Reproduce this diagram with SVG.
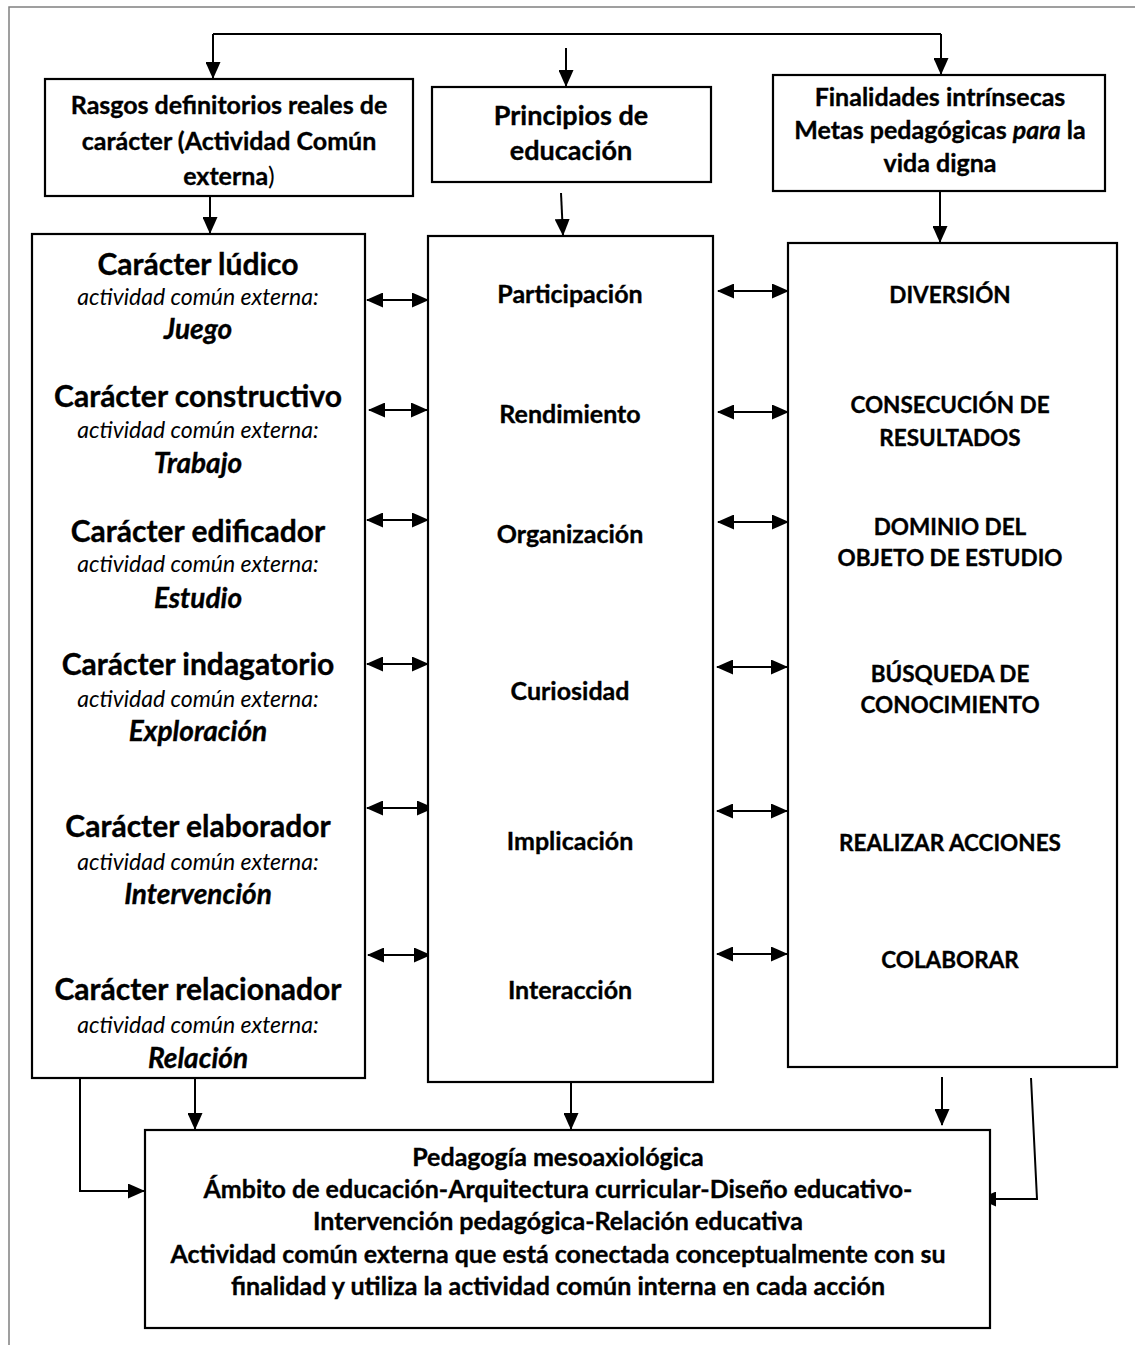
<svg xmlns="http://www.w3.org/2000/svg" width="1135" height="1345" viewBox="0 0 1135 1345">
<defs>
<marker id="ah" markerUnits="userSpaceOnUse" markerWidth="17" markerHeight="15" refX="16" refY="7.5" orient="auto-start-reverse">
<path d="M0,0 L17,7.5 L0,15 z" fill="#000"/>
</marker>
<style>
.box{fill:#fff;stroke:#000;stroke-width:2.2}
.cn{fill:none;stroke:#000;stroke-width:2}
.one{marker-end:url(#ah)}
.two{marker-start:url(#ah);marker-end:url(#ah)}
text{font-family:Lato,"Open Sans","Liberation Sans",sans-serif;fill:#000;text-anchor:middle}
.t1,.t2,.ch,.nm,.mid,.cap,.bt{stroke:#000;stroke-width:0.35}
.t1{font-size:25px;font-weight:bold}
.t2{font-size:27px;font-weight:bold}
.ch{font-size:30px;font-weight:bold}
.it{font-size:23px;font-style:italic}
.nm{font-size:28px;font-weight:bold;font-style:italic}
.mid{font-size:25px;font-weight:bold}
.cap{font-size:22.5px;font-weight:bold}
.bt{font-size:25px;font-weight:bold}
</style>
</defs>
<rect width="1135" height="1345" fill="#fff"/>
<path d="M9,1345 V7 H1135" fill="none" stroke="#808080" stroke-width="1.5"/>

<g id="connectors">
<path class="cn" d="M213,34 H941"/>
<path class="cn one" d="M213,34 V78"/>
<path class="cn one" d="M941,34 V74"/>
<path class="cn one" d="M566,48 V86"/>
<path class="cn one" d="M210,196 V233"/>
<path class="cn one" d="M561,193 L563,235"/>
<path class="cn one" d="M940,191 V242"/>
<path class="cn two" d="M367,300 H428"/>
<path class="cn two" d="M369,410 H427"/>
<path class="cn two" d="M367,520 H428"/>
<path class="cn two" d="M367,664 H428"/>
<path class="cn two" d="M367,808 H433"/>
<path class="cn two" d="M368,955 H430"/>
<path class="cn two" d="M718,291 H788"/>
<path class="cn two" d="M718,412 H788"/>
<path class="cn two" d="M718,522 H788"/>
<path class="cn two" d="M717,667 H787"/>
<path class="cn two" d="M717,811 H787"/>
<path class="cn two" d="M717,954 H787"/>
<path class="cn one" d="M80,1073 V1191 H144"/>
<path class="cn one" d="M195,1078 V1129"/>
<path class="cn one" d="M571,1082 V1129"/>
<path class="cn one" d="M942,1077 V1125"/>
<path class="cn one" d="M1031,1078 L1037,1199 H980"/>
</g>

<g id="rasgos">
<rect class="box" x="45" y="79" width="368" height="117"/>
<text class="t1" x="229" y="114">Rasgos definitorios reales de</text>
<text class="t1" x="229" y="150">carácter (Actividad Común</text>
<text class="t1" x="229" y="185">externa<tspan font-weight="normal" stroke-width="0">)</tspan></text>
</g>

<g id="principios">
<rect class="box" x="432" y="87" width="279" height="95"/>
<text class="t2" x="571" y="125">Principios de</text>
<text class="t2" x="571" y="160">educación</text>
</g>

<g id="finalidades">
<rect class="box" x="773" y="75" width="332" height="116"/>
<text class="t1" x="940" y="106">Finalidades intrínsecas</text>
<text class="t1" x="940" y="139">Metas pedagógicas <tspan font-style="italic">para</tspan> la</text>
<text class="t1" x="940" y="172">vida digna</text>
</g>

<g id="caracter">
<rect class="box" x="32" y="234" width="333" height="844"/>
<text class="ch" x="198" y="275">Carácter lúdico</text>
<text class="it" x="198" y="305">actividad común externa:</text>
<text class="nm" x="198" y="339">Juego</text>
<text class="ch" x="198" y="407">Carácter constructivo</text>
<text class="it" x="198" y="438">actividad común externa:</text>
<text class="nm" x="198" y="473">Trabajo</text>
<text class="ch" x="198" y="542">Carácter edificador</text>
<text class="it" x="198" y="572">actividad común externa:</text>
<text class="nm" x="198" y="608">Estudio</text>
<text class="ch" x="198" y="675">Carácter indagatorio</text>
<text class="it" x="198" y="707">actividad común externa:</text>
<text class="nm" x="198" y="741">Exploración</text>
<text class="ch" x="198" y="837">Carácter elaborador</text>
<text class="it" x="198" y="870">actividad común externa:</text>
<text class="nm" x="198" y="904">Intervención</text>
<text class="ch" x="198" y="1000">Carácter relacionador</text>
<text class="it" x="198" y="1033">actividad común externa:</text>
<text class="nm" x="198" y="1068">Relación</text>
</g>

<g id="principios-lista">
<rect class="box" x="428" y="236" width="285" height="846"/>
<text class="mid" x="570" y="303">Participación</text>
<text class="mid" x="570" y="423">Rendimiento</text>
<text class="mid" x="570" y="543">Organización</text>
<text class="mid" x="570" y="700">Curiosidad</text>
<text class="mid" x="570" y="850">Implicación</text>
<text class="mid" x="570" y="999">Interacción</text>
</g>

<g id="metas">
<rect class="box" x="788" y="243" width="329" height="824"/>
<text class="cap" x="950" y="303">DIVERSIÓN</text>
<text class="cap" x="950" y="413">CONSECUCIÓN DE</text>
<text class="cap" x="950" y="446">RESULTADOS</text>
<text class="cap" x="950" y="535">DOMINIO DEL</text>
<text class="cap" x="950" y="566">OBJETO DE ESTUDIO</text>
<text class="cap" x="950" y="682">BÚSQUEDA DE</text>
<text class="cap" x="950" y="713">CONOCIMIENTO</text>
<text class="cap" x="950" y="851">REALIZAR ACCIONES</text>
<text class="cap" x="950" y="968">COLABORAR</text>
</g>

<g id="pedagogia">
<rect class="box" x="145" y="1130" width="845" height="198"/>
<text class="bt" x="558" y="1166">Pedagogía mesoaxiológica</text>
<text class="bt" x="558" y="1198">Ámbito de educación-Arquitectura curricular-Diseño educativo-</text>
<text class="bt" x="558" y="1230">Intervención pedagógica-Relación educativa</text>
<text class="bt" x="558" y="1263">Actividad común externa que está conectada conceptualmente con su</text>
<text class="bt" x="558" y="1295">finalidad y utiliza la actividad común interna en cada acción</text>
</g>
</svg>
